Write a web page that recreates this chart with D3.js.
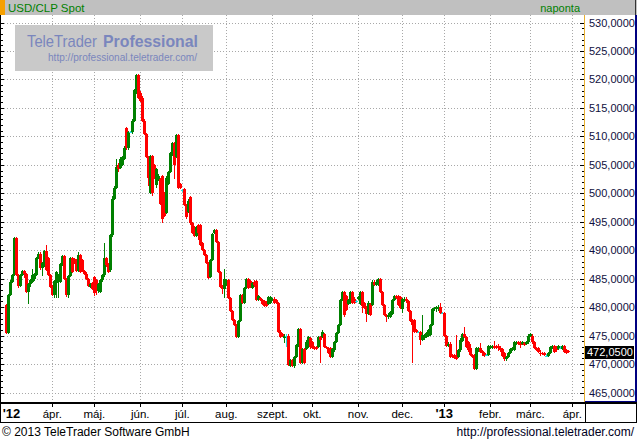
<!DOCTYPE html>
<html><head><meta charset="utf-8">
<script src="https://cdn.jsdelivr.net/npm/d3@7"></script>
<style>body{margin:0;background:#fff;}svg{display:block;font-family:"Liberation Sans",Arial,sans-serif;}</style>
</head><body><svg id="c" width="637" height="440"></svg>
<script>
const title = "USD/CLP Spot";
const period = "naponta";
const startDate = new Date(2012, 1, 29);
const monthNames = ["jan.","febr.","márc.","ápr.","máj.","jún.","júl.","aug.","szept.","okt.","nov.","dec."];
const yTicks = [465,470,475,480,485,490,495,500,505,510,515,520,525,530];
const lastPrice = 472.05;
const copyright = "© 2013 TeleTrader Software GmbH";
const siteUrl = "http://professional.teletrader.com/";
const brandA = "TeleTrader", brandB = "Professional";
// daily candles: [open, high, low, close]
const candles = [
[480.4,480.6,475.3,475.5],[475.5,482.3,475.3,482.1],[482.1,484.7,481.9,484.5],[484.5,485.8,484.3,485.6],[485.6,492.3,485.4,492.1],
[492.1,492.3,485.4,485.6],[485.6,485.8,483.4,483.7],[483.7,485.8,483.5,485.6],[485.6,486.5,485.4,486.3],[486.3,486.5,485.2,485.8],
[485.8,486,482.5,482.7],[482.7,484.3,480.6,484],[484,485,483.6,484.8],[484.5,486.7,484.2,485.6],[485,486,484.6,485.8],
[485.6,488.8,485.4,488.6],[488.6,489.6,488.4,489.4],[489.4,489.6,486.6,486.8],[486.8,487.9,485.4,487.7],[487.2,490,487,489.8],
[489.8,490.9,486.3,486.5],[488.6,488.8,485.4,485.6],[485.6,485.8,483.4,483.6],[483.6,483.8,481.9,482.1],[482.1,484.8,481.6,484.6],
[484.3,486.4,481.6,486.2],[484.6,485.8,481.6,485.6],[484.5,487.7,484.3,487.5],[487.5,489.1,487.3,488.9],[488.9,489.1,484.8,485],
[485,485.2,481.7,482.1],[482.1,485.7,481.6,485.5],[485.5,488.8,485.3,488.6],[488.6,488.8,486,486.2],[488.4,488.6,487.5,487.8],
[488.2,488.4,486.1,486.3],[486.3,489.7,486.1,489.1],[489.1,489.3,486,486.2],[488.2,488.4,486.1,486.3],[486.3,486.5,485.7,485.9],
[485.9,486.1,484.8,485],[485,485.2,483.5,483.7],[483.5,484.2,483.3,484],[484.3,484.5,483,483.2],[485.3,485.5,482,482.5],
[484.8,485,482.1,482.8],[482.8,484.3,482.5,484],[482.7,485,482.5,484.8],[484.8,485.9,484.5,485.6],[485.6,491.2,485.3,488.6],
[488.6,488.8,487,487.4],[487.6,487.8,486,486.2],[486.5,492.8,486.2,492.6],[492.6,499.5,492.3,499],[499,501.3,498.8,501],
[501,506,500.8,504.7],[505,505.3,503.8,504.2],[504.5,506.3,504.3,506],[505,506.6,504.8,506.3],[506,508.3,505.8,508],
[511.4,511.6,507.6,507.9],[507.9,511,507.6,510.8],[510.8,511,510.6,510.8],[510.8,513,510.5,512.7],[512.7,518.3,512.5,518.1],
[517.7,521,517.5,520.8],[520.8,521,516.5,516.7],[517.7,518,516,516.2],[516.7,517,512.5,512.7],[512.7,513,510.2,510.4],
[510.4,510.6,506.2,506.4],[506.4,506.6,501.2,502.7],[500.1,506.8,499.8,506.5],[506.5,506.7,499.5,500.1],[505,505.2,502.5,503],
[501.5,504.5,501,504.3],[502.5,503.3,502.2,503],[502.5,502.7,498,498.2],[503,503.2,494.7,495.4],[500,500.2,495.8,496],
[496.6,503,496.3,502.7],[501.6,504,501.4,503.8],[503.8,507.2,503.5,507],[506.8,509,506.5,508.8],[508.8,509,502.5,505],
[506.4,510.4,506.2,510.2],[510.2,510.4,500.7,500.9],[501.6,501.8,500.7,500.9],[500.5,500.7,500.3,500.5],[500.7,500.9,497.8,498],
[498,498.2,495.5,495.8],[496.7,499,496.5,498.7],[499.3,499.5,494.5,494.7],[494.7,495,492.8,493],[494,494.2,492.3,492.5],
[492.5,494.2,492.3,494],[494.4,494.6,491.8,493],[494.4,494.6,490.7,490.9],[491.2,491.4,489.8,490],[490,490.2,488.9,489.1],
[489.1,489.3,487.5,487.7],[487.7,487.9,484.9,485.1],[485.3,488.5,485.1,488.3],[488.3,493.1,488.1,492.9],[493,493.7,492.8,493.5],
[493.5,493.7,491.3,491.5],[491.5,491.7,486,486.2],[486.2,486.4,483.4,483.6],[483.6,483.8,482.3,483.1],[483.1,486.7,481.6,485],
[483.9,485,483.7,484.7],[484.7,484.9,481.4,481.6],[481.6,481.8,479.1,479.3],[479.3,479.5,477.5,477.7],[477.7,477.9,476.6,476.8],
[476.8,477,474.6,474.8],[474.8,477.7,474.6,477.5],[477.5,482.3,477.3,482.1],[482.1,482.3,480.6,480.8],[480.8,483.5,480.6,483.3],
[483.3,485.2,483.1,485],[485,485.2,483.1,483.3],[484.6,484.8,483.4,483.6],[483.3,484.4,483.1,484.2],[484.5,484.7,483.6,483.8],
[484.6,484.8,481.1,481.3],[481.3,482.2,481.1,482],[481.6,481.8,481,481.2],[481.2,481.4,480.3,480.5],[481,481.2,480,480.2],
[480.8,481,480,480.2],[480.5,481.9,480.3,481.7],[480.8,481.9,480.6,481.7],[481.3,481.6,481.1,481.5],[481.5,481.7,480.5,480.7],
[481.2,481.4,480.5,480.7],[480.7,480.9,475.5,475.7],[475.7,475.9,474.6,474.8],[475.2,475.4,474.7,474.9],[474.5,475.2,473.7,475],
[475,475.2,473,475],[475,475.2,469.6,469.8],[469.7,470.9,469.5,470.7],[470.7,470.9,469.5,469.7],[469.7,471.4,469.3,471.2],
[471.3,473.5,471.1,473.3],[473.3,476.4,473,476.2],[476.2,476.4,470,470.2],[470.2,472.8,470,472.6],[472.6,472.8,470,470.2],
[472.6,474.3,472.4,473.8],[473,475,472.8,474.7],[474.5,474.7,472.7,473],[473.9,474.1,472.7,472.9],[473,473.2,472.5,472.7],
[473,473.2,472.5,472.7],[473,474.9,472.8,474.7],[474.7,474.9,470.1,474.3],[474.8,476,474.6,475.7],[475.3,475.5,472.8,473],
[473,473.2,472.6,472.8],[472.8,473,471.8,472],[472.8,473,471,471.2],[471.3,472.8,471.1,472.6],[472.4,474.1,472.2,473.9],
[473.9,475.7,473.7,475.5],[475.5,477,475.3,476.8],[476.8,481.4,476.6,481.2],[481.2,482.9,481,482.7],[482.7,482.9,478.3,478.6],
[482,482.2,479.3,479.5],[480.5,481.4,480.3,481.2],[480.7,482.9,480.5,482.7],[482.7,482.9,480.5,480.7],[481.5,481.7,480.5,480.7],
[481,481.2,480.8,481],[481.4,481.9,481.2,481.7],[480.5,482.9,480.3,482.7],[482.7,482.9,479,480.2],[480.7,480.9,479.6,479.8],
[480,480.2,477.3,478.8],[478.8,481,478.6,480.8],[480.5,480.7,478.5,478.7],[480.4,484.7,480.2,484.5],[484.5,484.8,483.7,483.9],
[483.9,484.7,483.7,484.5],[483.9,485.2,483.7,485],[485,485.2,482.5,482.7],[482.7,482.9,480.2,480.4],[480.4,480.6,478.4,478.6],
[478.6,478.8,477.3,478.2],[478.2,478.9,478,478.7],[478.3,479.4,478.1,479.2],[478.8,481.4,478.6,481.2],[481.2,482.2,481,482],
[482,482.2,481.4,481.6],[482,482.2,480.2,480.4],[481.7,481.9,479.6,479.8],[479.6,481.6,478.9,481.4],[481.1,481.7,480.9,481.5],
[481.5,481.7,480.8,481],[481,481.2,479.1,479.3],[479.3,479.5,477.3,477.5],[477.7,477.9,470.1,476.8],[477.7,477.9,475.5,475.7],
[476,476.2,475.5,475.7],[475.6,475.8,475.4,475.6],[475.6,475.8,473.4,474.2],[474.2,478.7,474,475.1],[474.5,475.3,474.3,475.1],
[474.7,475.6,474.5,475.4],[474.9,476.2,474.7,476],[475.1,477,474.9,476.8],[476.8,479.8,476.6,479.6],[479.6,480.1,479.4,479.9],
[479.6,480.2,479.2,480],[479.6,480.3,479.4,480.1],[480.1,480.7,478.8,479],[479,479.2,478.8,479],[478.9,479.1,474.7,474.9],
[474.9,475.1,473,473.2],[473.2,473.8,473,473.6],[473.6,473.8,471.1,471.3],[471.6,471.8,471,471.2],[471.6,471.8,470.9,471.1],
[471.5,475.1,470.7,470.9],[471.2,472.6,471,472.4],[472.4,474.5,472.2,474.3],[474,475.5,473.8,475.3],[475.3,476.5,474.6,474.8],
[474.8,475,472.8,473],[473.8,474,472.2,472.4],[472.8,473.6,471.4,471.6],[471.6,471.8,471.1,471.3],[471.6,471.8,468.9,469.1],
[469.1,473,468.9,472.8],[472.3,473,472.1,472.8],[472.8,473.7,472,472.2],[472.3,472.5,471.4,471.9],[471.9,472.1,471.3,471.5],
[471.6,471.8,471.4,471.6],[471.6,473.4,471.4,473.2],[472.8,473.4,472.6,473.2],[472.9,473.4,472.7,473.2],[473.2,474.1,472.7,472.9],
[473.1,473.3,472.6,472.8],[473.1,473.5,472.3,472.8],[472.9,473.1,472.2,472.4],[472.6,472.8,471.2,471.4],[472,472.2,470.6,470.8],
[470.8,471.4,470.6,471.2],[471.2,472.1,471,471.9],[471.9,472.8,471.7,472.6],[472.5,473,472.3,472.8],[472.5,474,472.3,473.8],
[473.5,474,473.3,473.8],[473.8,474,473.4,473.6],[473.9,474.1,472.9,473.4],[473.6,474.1,473.4,473.9],[473.7,473.9,473.2,473.4],
[473.5,474.1,473.3,473.9],[473.8,475.2,473.6,475],[475,475.4,474.8,475.2],[475,475.2,473.6,473.8],[473.8,474,472.6,472.8],
[472.8,473,472.3,472.5],[472.8,473,471.9,472.1],[472,472.5,471.5,471.9],[472,472.2,471.6,471.8],[471.9,472.1,471.4,471.6],
[471.5,471.7,471.3,471.5],[471.5,472.1,471.3,471.9],[471.9,473.2,471.7,473],[472.8,473.4,472.6,473.2],[473.2,473.4,472,472.2],
[473,473.2,472.2,472.4],[472.6,473.4,472.4,473.2],[472.9,473.1,472.7,472.9],[472.6,473.4,472.4,473.2],[473.2,473.4,472,472.2],
[472.4,472.6,471.7,471.9],[472.3,472.5,471.9,472.05]
];

const W = 637, H = 440;
const plotL = 0, plotR = 584, plotT = 15, plotB = 402;
const svg = d3.select("#c");
const N = candles.length;
const x = d3.scaleLinear().domain([0, N - 1]).range([6.3, 6.3 + 2 * (N - 1)]);
const y = d3.scaleLinear().domain([465, 530]).range([392.5, 22.5]);
const fmt = v => d3.format(".4f")(v).replace(".", ",");

// weekday calendar for x positions (extends to right edge of the plot)
const lastIdx = Math.floor(x.invert(plotR));
const dates = [];
{ let d = new Date(startDate); while (dates.length <= lastIdx) { const wd = d.getDay(); if (wd !== 0 && wd !== 6) dates.push(new Date(d)); d.setDate(d.getDate() + 1); } }
const monthTicks = [];
dates.forEach((d, i) => { if (i > 0 && d.getMonth() !== dates[i - 1].getMonth()) monthTicks.push({i, d}); });

svg.append("rect").attr("width", W).attr("height", H).attr("fill", "#fff");

// grid
const grid = svg.append("g").attr("stroke", "#a8a8a8").attr("stroke-dasharray", "1,2").attr("stroke-width", 1);
grid.selectAll("line.h").data(yTicks).join("line")
  .attr("x1", plotL + 1).attr("x2", plotR).attr("y1", d => Math.round(y(d)) + 0.5).attr("y2", d => Math.round(y(d)) + 0.5);
grid.selectAll("line.v").data(monthTicks.slice(1)).join("line")
  .attr("x1", d => Math.round(x(d.i)) + 0.5).attr("x2", d => Math.round(x(d.i)) + 0.5)
  .attr("y1", plotT).attr("y2", plotB);

// watermark
svg.append("rect").attr("x", 15).attr("y", 25).attr("width", 198).attr("height", 46).attr("fill", "#c9c9c9");
svg.append("text").attr("x", 27).attr("y", 47).attr("font-size", 17).attr("fill", "#7a86bd")
  .attr("textLength", 70).attr("lengthAdjust", "spacingAndGlyphs").text(brandA);
svg.append("text").attr("x", 103).attr("y", 47).attr("font-size", 17).attr("font-weight", "bold").attr("fill", "#7a86bd")
  .attr("textLength", 95).attr("lengthAdjust", "spacingAndGlyphs").text(brandB);
svg.append("text").attr("x", 48).attr("y", 61).attr("font-size", 11).attr("fill", "#7a86bd")
  .attr("textLength", 149).attr("lengthAdjust", "spacingAndGlyphs").text(siteUrl);

// candles
const colorOf = d => d[3] > d[0] ? "#008000" : (d[3] < d[0] ? "#ff0000" : "#22dede");
const cg = svg.append("g").attr("shape-rendering", "crispEdges");
const cand = cg.selectAll("g").data(candles).join("g").attr("fill", colorOf);
cand.append("rect")
  .attr("x", (d, i) => Math.round(x(i)))
  .attr("y", d => Math.round(y(d[1])))
  .attr("width", 1)
  .attr("height", d => Math.max(1, Math.round(y(d[2])) - Math.round(y(d[1]))));
cand.append("rect")
  .attr("x", (d, i) => Math.round(x(i)) - 1)
  .attr("y", d => Math.round(y(Math.max(d[0], d[3]))))
  .attr("width", 3)
  .attr("height", d => Math.max(1, Math.round(y(Math.min(d[0], d[3]))) - Math.round(y(Math.max(d[0], d[3])))));

// header
svg.append("rect").attr("x", 0).attr("y", 0).attr("width", W).attr("height", 15).attr("fill", "#c0c0c0");
svg.append("rect").attr("x", 0).attr("y", 0).attr("width", 5).attr("height", 15).attr("fill", "#f5a000");
svg.append("line").attr("x1", 635.5).attr("x2", 635.5).attr("y1", 0).attr("y2", 15).attr("stroke", "#333");
svg.append("text").attr("x", 8).attr("y", 12).attr("font-size", 11.5).attr("fill", "#008000").text(title);
svg.append("text").attr("x", 580).attr("y", 12).attr("text-anchor", "end").attr("font-size", 11).attr("fill", "#008000").text(period);

// left axis line & ticks
const minor = d3.range(465, 531, 1);
const ax = svg.append("g").attr("shape-rendering", "crispEdges").attr("stroke", "#000");
ax.append("line").attr("x1", 0.5).attr("x2", 0.5).attr("y1", plotT).attr("y2", 422);
ax.selectAll("line.lt").data(minor).join("line")
  .attr("x1", 0).attr("x2", d => d % 5 === 0 ? 4 : 3)
  .attr("y1", d => Math.round(y(d)) + 0.5).attr("y2", d => Math.round(y(d)) + 0.5);

// right panel
svg.append("rect").attr("x", 585).attr("y", 15).attr("width", 51).attr("height", 386).attr("fill", "#fff");
ax.selectAll("line.rt").data(minor).join("line")
  .attr("x1", d => d % 5 === 0 ? 580 : 582).attr("x2", 584)
  .attr("y1", d => Math.round(y(d)) + 0.5).attr("y2", d => Math.round(y(d)) + 0.5);
svg.append("line").attr("x1", 584.5).attr("x2", 584.5).attr("y1", 15).attr("y2", 402).attr("stroke", "#e8b030");
svg.append("line").attr("x1", 636).attr("x2", 636).attr("y1", 15).attr("y2", 402).attr("stroke", "#000080").attr("stroke-width", 2);
svg.append("line").attr("x1", 585).attr("x2", 637).attr("y1", 401.5).attr("y2", 401.5).attr("stroke", "#000080");
svg.append("g").selectAll("text").data(yTicks).join("text")
  .attr("x", 589).attr("y", d => y(d) + 4).attr("font-size", 11).attr("fill", "#101040").text(fmt);

// last price marker
svg.append("rect").attr("x", 585).attr("y", Math.round(y(lastPrice)) - 6).attr("width", 49).attr("height", 13).attr("fill", "#000");
svg.append("text").attr("x", 587).attr("y", y(lastPrice) + 4).attr("font-size", 11).attr("fill", "#fff").text(fmt(lastPrice));

// x axis band
svg.append("rect").attr("x", 0).attr("y", 402).attr("width", W).attr("height", 2).attr("fill", "#000");
svg.append("rect").attr("x", 0).attr("y", 422).attr("width", W).attr("height", 1).attr("fill", "#000");
svg.append("rect").attr("x", 585).attr("y", 402).attr("width", 1).attr("height", 21).attr("fill", "#000");
svg.append("rect").attr("x", 636).attr("y", 402).attr("width", 1).attr("height", 21).attr("fill", "#000");
ax.selectAll("line.xt").data(monthTicks.slice(1)).join("line")
  .attr("x1", d => Math.round(x(d.i)) + 0.5).attr("x2", d => Math.round(x(d.i)) + 0.5).attr("y1", 404).attr("y2", 407);
svg.append("g").selectAll("text").data(monthTicks).join("text")
  .attr("x", (d, k) => k === 0 ? Math.max(x(d.i), 11.5) : x(d.i))
  .attr("y", 418).attr("text-anchor", "middle")
  .attr("font-size", (d, k) => (k === 0 || d.d.getMonth() === 0) ? 13 : 11.5)
  .attr("font-weight", (d, k) => (k === 0 || d.d.getMonth() === 0) ? "bold" : "normal")
  .attr("fill", "#000")
  .text((d, k) => (k === 0 || d.d.getMonth() === 0) ? "'" + String(d.d.getFullYear()).slice(2) : monthNames[d.d.getMonth()]);

// footer
svg.append("text").attr("x", 2).attr("y", 436).attr("font-size", 12).attr("fill", "#000").text(copyright);
svg.append("text").attr("x", 634).attr("y", 436).attr("text-anchor", "end").attr("font-size", 12).attr("fill", "#000022").text(siteUrl);
</script></body></html>
